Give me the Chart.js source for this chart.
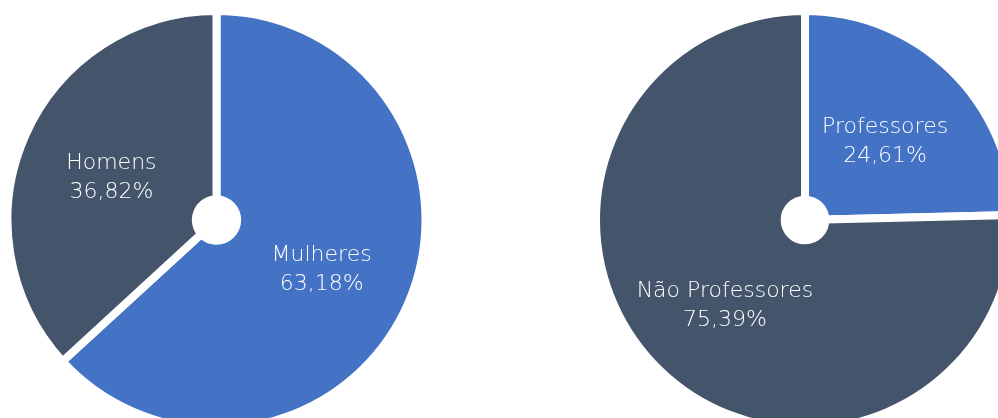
<!DOCTYPE html>
<html>
<head>
<meta charset="utf-8">
<script src="https://cdn.jsdelivr.net/npm/chart.js@4"></script>
<style>
    html, body { margin: 0; padding: 0; background: #fff; }
    #wrap { position: relative; width: 998px; height: 418px; overflow: hidden; }
    #wrap canvas { position: absolute; top: 0; }
    #genderChart { left: 0; }
    #roleChart { left: 585px; }
</style>
</head>
<body>
<div id="wrap">
    <canvas id="genderChart" width="433" height="440"></canvas>
    <canvas id="roleChart" width="440" height="440"></canvas>
</div>
<script>
// Values (percent)
const genderLabels = ['Mulheres', 'Homens'];
const genderValues = [63.18, 36.82];

const roleLabels = ['Professores', 'Não Professores'];
const roleValues = [24.61, 75.39];

const sliceColors = ['#4472C4', '#44546A'];

// Draws "name / value%" in the middle of each slice, at the ring's half radius
const sliceLabels = {
    id: 'sliceLabels',
    afterDatasetsDraw(chart) {
        const ctx = chart.ctx;
        const meta = chart.getDatasetMeta(0);
        const data = chart.data.datasets[0].data;
        ctx.save();
        ctx.fillStyle = '#ffffff';
        ctx.font = '200 22px "DejaVu Sans", sans-serif';
        ctx.textAlign = 'center';
        ctx.textBaseline = 'alphabetic';
        meta.data.forEach((arc, i) => {
            const pos = arc.tooltipPosition();
            const pct = data[i].toFixed(2).replace('.', ',') + '%';
            ctx.fillText(chart.data.labels[i], pos.x, pos.y - 5);
            ctx.fillText(pct, pos.x, pos.y + 24);
        });
        ctx.restore();
    }
};

function makeDoughnut(canvasId, labels, values) {
    return new Chart(document.getElementById(canvasId), {
        type: 'doughnut',
        data: {
            labels: labels,
            datasets: [{
                data: values,
                backgroundColor: sliceColors,
                borderColor: '#ffffff',
                borderWidth: 8,
                clip: false
            }]
        },
        options: {
            responsive: false,
            animation: false,
            radius: 209,
            cutout: 21,
            layout: { padding: 0 },
            plugins: {
                legend: { display: false },
                tooltip: { enabled: false }
            }
        },
        plugins: [sliceLabels]
    });
}

makeDoughnut('genderChart', genderLabels, genderValues);
makeDoughnut('roleChart', roleLabels, roleValues);
</script>
</body>
</html>
